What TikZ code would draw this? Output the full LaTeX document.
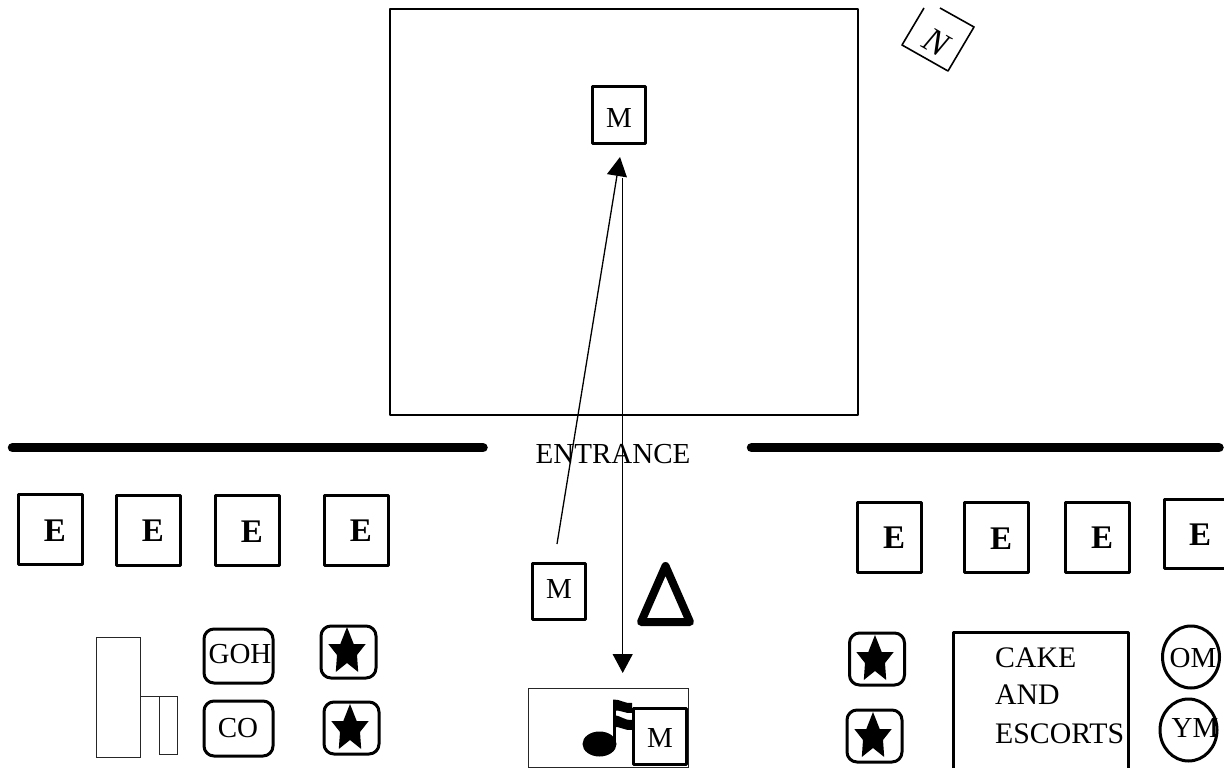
\documentclass[tikz,border=0pt]{standalone}
\usepackage{fontspec}
\setmainfont{Liberation Serif}
\usetikzlibrary{arrows.meta,shapes.geometric}
\tikzset{
  x=1pt,y=-1pt,
  heavy/.style={draw=black,line width=3pt,line join=round,inner sep=0pt,outer sep=0pt,fill=none},
  ebox/.style={heavy,rectangle,minimum width=64pt,minimum height=70pt},
  mbox/.style={heavy,rectangle,minimum width=53pt,minimum height=56pt},
  rbox/.style={heavy,rectangle,rounded corners=10pt,minimum width=69pt,minimum height=54pt},
  sbox/.style={heavy,rectangle,rounded corners=10pt,minimum width=55pt,minimum height=52pt},
  oval/.style={heavy,ellipse,minimum width=57pt,minimum height=62pt},
  thin box/.style={draw=black!85,line width=1pt,rectangle,inner sep=0pt,outer sep=0pt},
  wall/.style={line width=9.5pt,line cap=round},
  walk/.style={line width=1.3pt,-{Triangle[length=19pt,width=20pt]}},
  lab/.style={font=\fontsize{29}{34}\selectfont,inner sep=0pt,anchor=base},
  cakelab/.style={font=\fontsize{29.8}{34}\selectfont,inner sep=0pt,anchor=base west},
  elab/.style={font=\fontsize{33}{36}\bfseries\selectfont,inner sep=0pt,anchor=base},
  starmark/.pic={\fill[black] (0,0)--(6.7,17)--(18.7,17)--(10,28)--(11.2,45)--(0,36)--(-11.2,45)--(-10,28)--(-18.7,17)--(-6.7,17)--cycle;},
}
\begin{document}
\begin{tikzpicture}
\clip (0,0) rectangle (1224,768);
\fill[white] (0,0) rectangle (1224,768);

% ceremony room
\node[heavy,rectangle,line width=2.5pt,minimum width=468pt,minimum height=406pt] (room) at (624,212) {};
\node[mbox] (mtop) at (618.5,115) {};
\node[lab] (mtoplab) at (619,127) {M};

% north sign
\draw[line width=1.6pt,line join=round] (924,8)--(902,45)--(948,71)--(974,27)--(940,8);
\node[font=\fontsize{35}{38}\itshape\selectfont,inner sep=0pt,rotate=-30] (north) at (936,42) {N};

% walls
\coordinate (wla) at (12.5,447.7);
\coordinate (wlb) at (483,447.7);
\coordinate (wra) at (751.5,447.7);
\coordinate (wrb) at (1219,447.7);
\draw[wall] (wla)--(wlb);
\draw[wall] (wra)--(wrb);
\node[lab] (entrance) at (613,463) {ENTRANCE};

% left E
\node[ebox] (e1) at (50,529) {};
\node[ebox] (e2) at (148,530) {};
\node[ebox] (e3) at (247,530.5) {};
\node[ebox] (e4) at (356,530) {};
\node[elab] (e1l) at (55,541) {E};
\node[elab] (e2l) at (153,541) {E};
\node[elab] (e3l) at (252,542) {E};
\node[elab] (e4l) at (361,541) {E};

% right E
\node[ebox] (e5) at (889,537) {};
\node[ebox] (e6) at (996,537) {};
\node[ebox] (e7) at (1097,537) {};
\node[ebox,minimum height=69pt] (e8) at (1196,533.5) {};
\node[elab] (e5l) at (894,548) {E};
\node[elab] (e6l) at (1001,549) {E};
\node[elab] (e7l) at (1102,548) {E};
\node[elab] (e8l) at (1200,545) {E};

% centre: marshals and triangle
\node[mbox] (mlow) at (558.5,591) {};
\node[lab] (mlowlab) at (559,598) {M};
\draw[line width=8pt,line join=round] (665.5,566)--(641,622)--(690,622)--cycle;

% walking lines
\coordinate (upstart) at (557,544);
\coordinate (uptip) at (620,157);
\coordinate (downstart) at (622.7,178);
\coordinate (downtip) at (622.7,673);
\draw[walk] (upstart)--(uptip);
\draw[walk] (downstart)--(downtip);

% music box
\node[thin box,minimum width=160pt,minimum height=78.5pt] (music) at (608,727.8) {};
\fill (599.5,744) ellipse [x radius=17,y radius=12.5];
\fill (613,700) rectangle (616,744);
\fill (613,699.5) .. controls (620,699) and (625,704) .. (632,703)
   -- (632,713) .. controls (625,714) and (620,709) .. (613,711) -- cycle;
\fill (613,715) .. controls (620,715) and (625,721) .. (632,720)
   -- (632,730) .. controls (625,731) and (620,726) .. (613,727) -- cycle;
\node[mbox] (mmusic) at (659.5,736) {};
\node[lab] (mmusiclab) at (660,747) {M};

% left group
\node[thin box,minimum width=44pt,minimum height=120pt] (tall) at (118,697) {};
\node[thin box,minimum width=18pt,minimum height=58pt] (short) at (168,725) {};
\draw[black!85,line width=1pt] (tall.east |- short.north west)--(short.north west);
\node[rbox] (goh) at (238.5,656) {};
\node[rbox,minimum height=55pt] (co) at (238.5,728.5) {};
\node[lab] (gohl) at (240,663) {GOH};
\node[lab] (col) at (238,737) {CO};
\node[sbox] (s1) at (348.5,652) {};
\node[sbox] (s2) at (351.5,728) {};
\pic at (347,627) {starmark};
\pic at (350,704) {starmark};

% right group
\node[sbox] (s3) at (877,659) {};
\node[sbox] (s4) at (874.5,736) {};
\pic at (875,635) {starmark};
\pic at (873,712) {starmark};
\draw[line width=3pt,line join=round] (953,772)--(953,632)--(1128,632)--(1128,772);
\node[cakelab] (cake1) at (995,667) {CAKE};
\node[cakelab] (cake2) at (995,704) {AND};
\node[cakelab] (cake3) at (995,743) {ESCORTS};
\node[oval] (om) at (1191,657) {};
\node[oval] (ym) at (1188.5,730) {};
\node[lab] (oml) at (1193,667) {OM};
\node[lab] (yml) at (1195,737) {YM};
\end{tikzpicture}
\end{document}
